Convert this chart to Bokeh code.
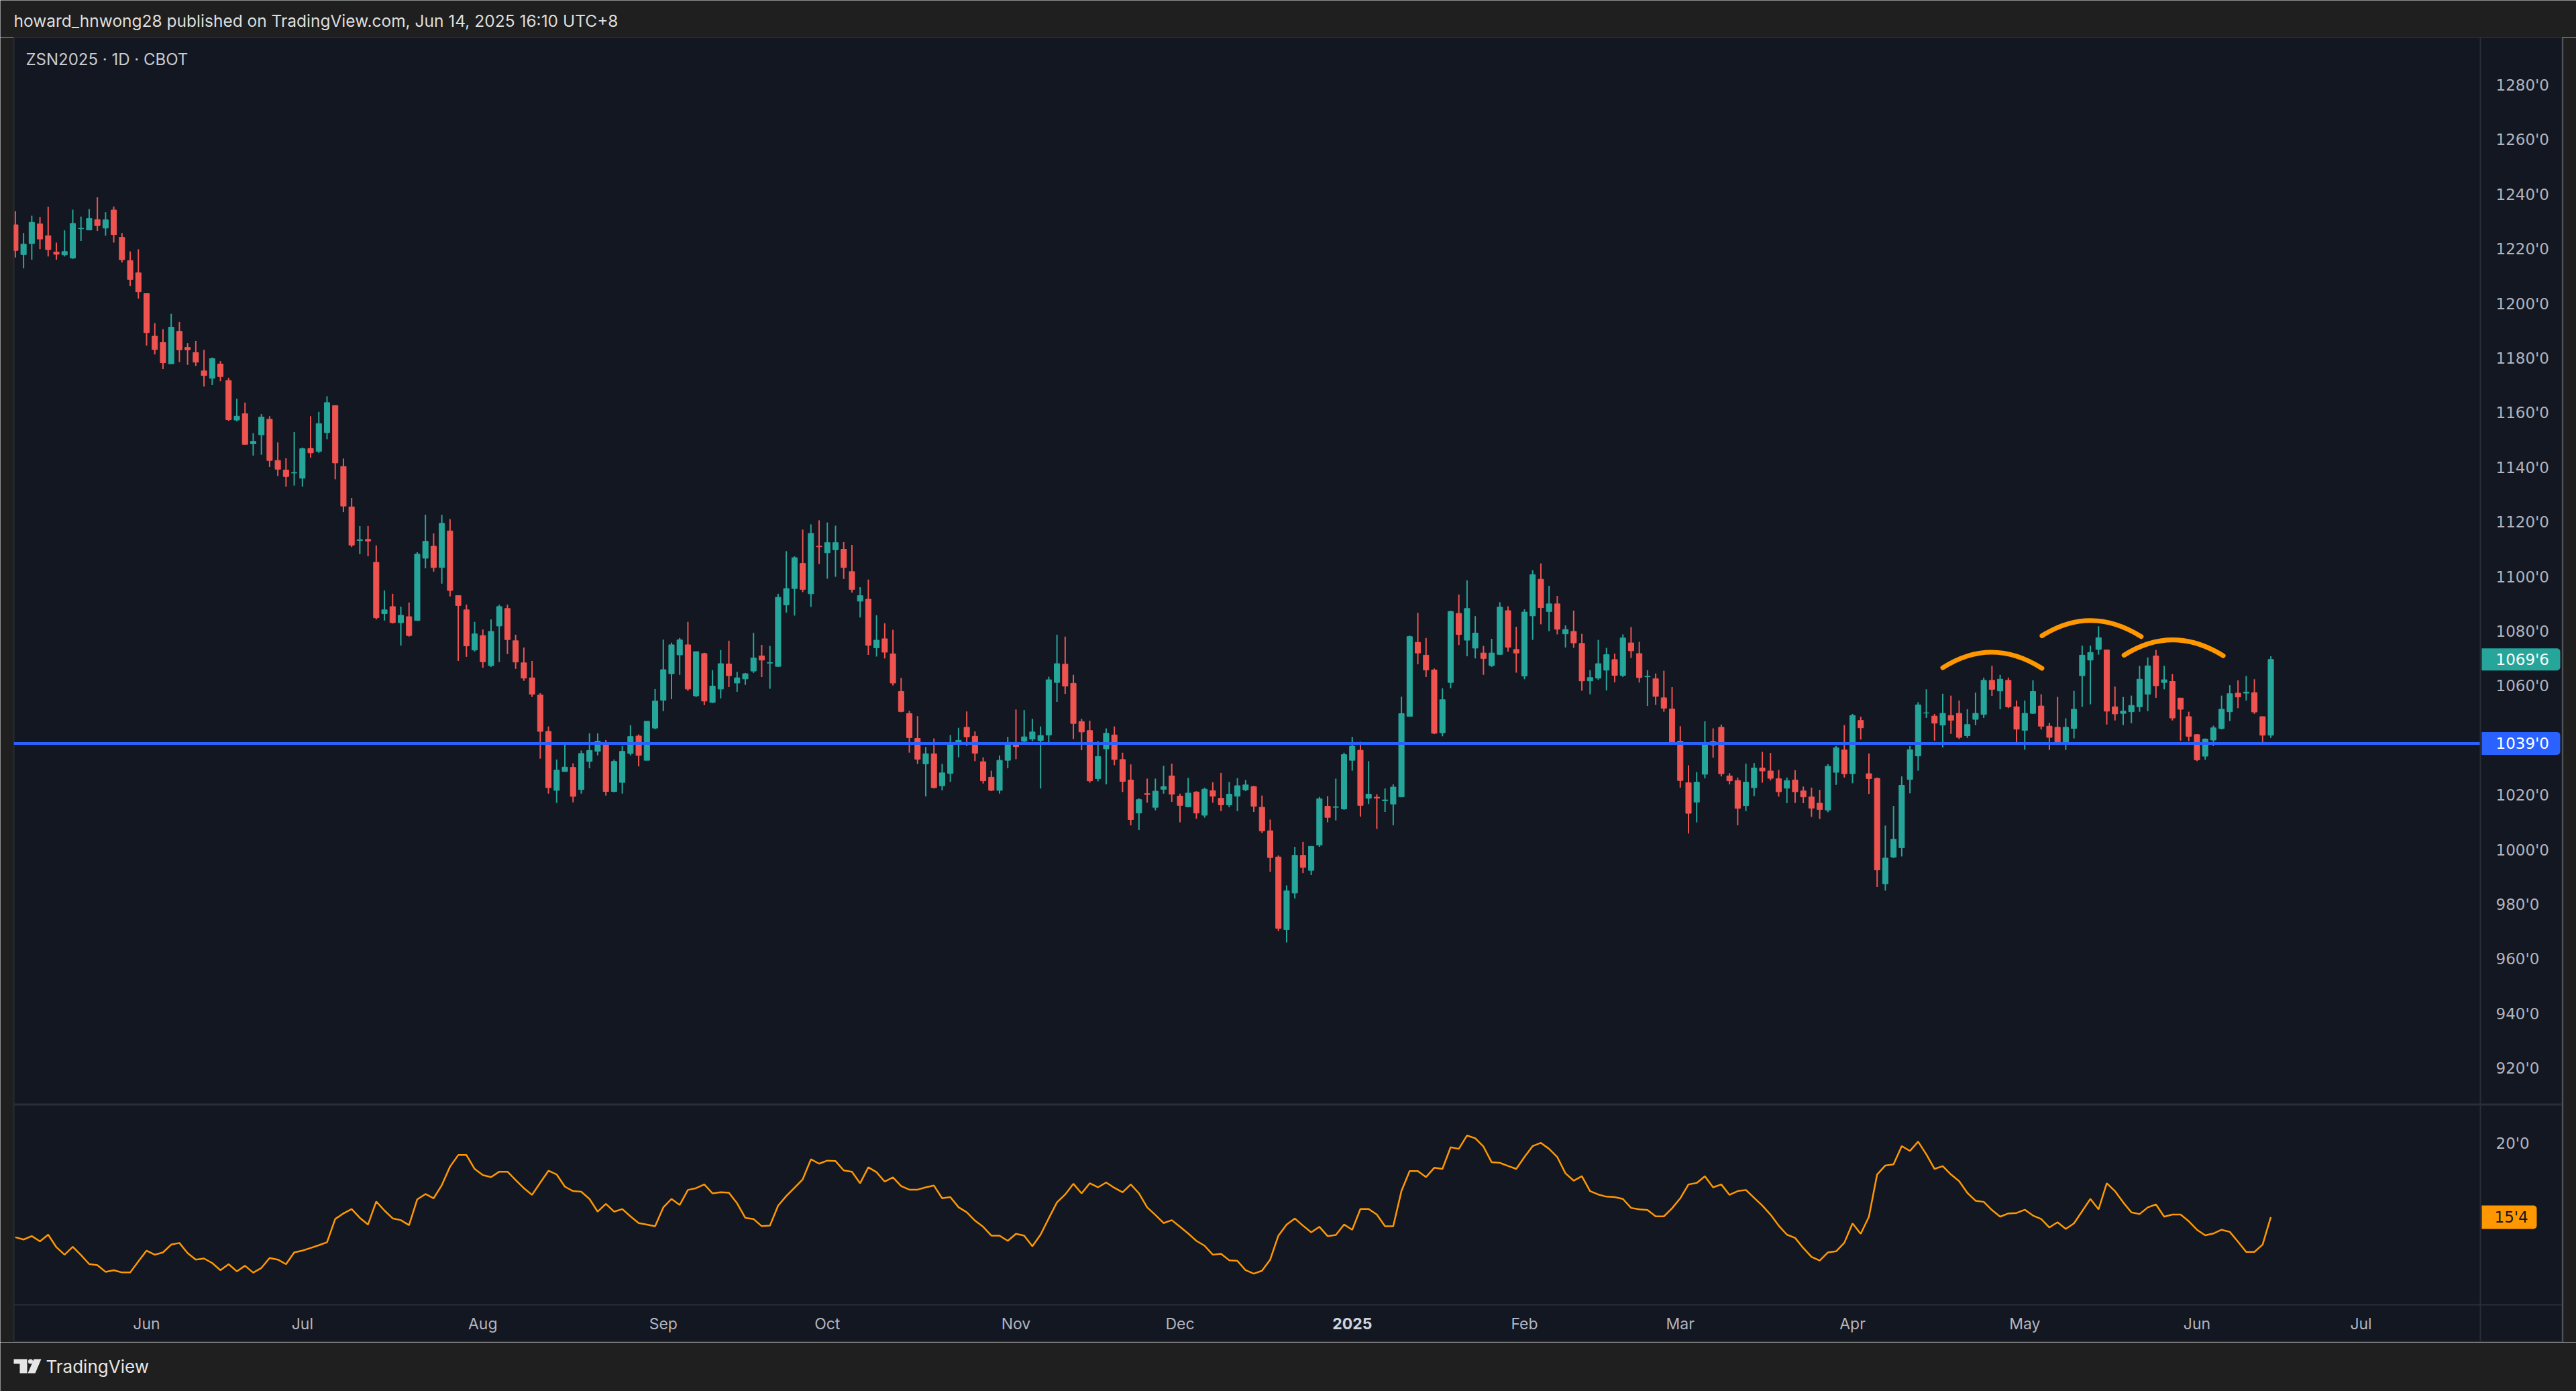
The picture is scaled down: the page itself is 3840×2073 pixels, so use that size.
from bokeh.plotting import figure
from bokeh.models import Range1d, FixedTicker, Span, Label, ColumnDataSource, LinearAxis
from bokeh.layouts import column, row
from bokeh.embed import file_html
from bokeh.resources import INLINE
from bokeh.core.properties import value

# ---------------- data ----------------
HEADER = "howard_hnwong28 published on TradingView.com, Jun 14, 2025 16:10 UTC+8"
SYMBOL = "ZSN2025 \u00b7 1D \u00b7 CBOT"

opens = [
 1228.9,1218.0,1222.0,1229.2,1224.9,1218.9,1217.9,1216.7,1227.5,1227.0,
 1230.8,1227.7,1234.3,1224.3,1215.8,1211.3,1203.7,1188.1,1185.8,1178.0,
 1189.9,1184.0,1182.1,1175.4,1172.7,1177.9,1171.9,1157.4,1159.7,1148.7,
 1152.0,1157.7,1142.6,1139.1,1138.0,1136.1,1147.0,1145.9,1152.8,1162.7,
 1140.4,1125.6,1113.3,1113.7,1105.3,1086.5,1089.1,1083.2,1085.4,1084.0,
 1106.8,1111.2,1103.4,1116.8,1093.1,1087.9,1073.2,1078.5,1067.5,1082.0,
 1088.4,1076.6,1068.5,1063.0,1056.7,1043.4,1021.8,1028.7,1030.2,1022.1,
 1032.4,1036.1,1039.3,1021.4,1024.7,1035.3,1041.7,1032.8,1044.6,1054.8,
 1064.5,1071.4,1075.1,1056.4,1071.9,1054.0,1058.9,1068.1,1061.1,1062.6,
 1065.5,1071.0,1068.4,1067.2,1089.7,1095.7,1104.9,1093.8,1111.2,1108.8,
 1109.9,1110.1,1101.9,1091.1,1091.8,1074.0,1077.3,1071.8,1058.0,1049.9,
 1040.8,1031.5,1035.2,1023.5,1028.0,1038.7,1044.9,1041.6,1032.3,1026.6,
 1021.8,1032.8,1038.7,1039.8,1040.6,1040.1,1042.1,1061.3,1068.0,1061.0,
 1047.0,1043.7,1026.1,1037.0,1042.1,1033.1,1025.6,1013.5,1020.6,1015.6,
 1022.2,1027.1,1019.7,1015.8,1021.2,1012.7,1021.7,1018.9,1016.5,1019.7,
 1022.0,1023.2,1015.6,1007.0,997.4,970.8,984.2,998.0,992.5,1001.8,
 1016.0,1015.6,1015.0,1032.8,1036.5,1018.9,1019.3,1018.0,1016.8,1019.4,
 1048.9,1076.0,1071.3,1065.9,1042.9,1061.3,1086.6,1076.8,1073.9,1072.1,
 1067.5,1071.6,1087.6,1073.4,1063.7,1085.7,1099.1,1087.3,1090.1,1079.1,
 1080.0,1075.6,1061.9,1062.9,1065.8,1069.7,1063.9,1075.8,1071.9,1063.4,
 1062.7,1055.7,1051.6,1039.8,1024.6,1017.5,1027.7,1039.7,1044.9,1027.1,
 1025.4,1016.2,1022.8,1030.0,1028.9,1026.1,1022.6,1025.6,1021.6,1019.4,
 1017.1,1014.6,1028.4,1036.6,1027.9,1047.4,1027.9,1026.2,987.6,997.4,
 1000.8,1025.8,1034.4,1050.1,1049.0,1045.7,1049.2,1050.0,1041.8,1047.8,
 1049.6,1062.1,1058.2,1062.1,1052.4,1043.8,1050.0,1052.7,1045.3,1044.9,
 1039.0,1044.5,1063.8,1069.5,1073.4,1073.2,1052.4,1050.0,1050.6,1052.4,
 1057.0,1071.0,1061.3,1061.7,1055.6,1048.8,1042.2,1034.3,1040.2,1044.5,
 1050.6,1057.4,1057.4,1057.6,1048.8,1042.0]

highs = [
 1233.9,1225.9,1232.2,1231.7,1235.5,1222.4,1226.9,1234.4,1231.9,1234.7,
 1239.0,1233.5,1235.6,1225.9,1219.1,1219.9,1203.7,1192.9,1190.7,1196.3,
 1193.3,1185.6,1186.4,1183.1,1180.3,1179.0,1172.9,1165.2,1163.8,1152.6,
 1159.6,1158.8,1149.2,1143.4,1153.0,1147.3,1158.8,1160.4,1166.1,1162.7,
 1143.3,1128.9,1118.6,1118.6,1111.5,1095.0,1093.8,1089.1,1090.6,1109.0,
 1122.7,1115.9,1122.7,1121.1,1093.1,1089.8,1083.5,1080.7,1084.4,1089.8,
 1089.8,1078.8,1074.1,1069.2,1057.4,1045.2,1033.1,1039.5,1031.7,1036.4,
 1042.7,1042.7,1040.2,1033.1,1038.0,1045.7,1042.3,1047.1,1058.9,1077.0,
 1075.9,1077.6,1083.5,1072.6,1072.2,1065.8,1073.2,1076.6,1065.2,1064.8,
 1079.5,1075.1,1074.7,1093.8,1109.4,1107.5,1117.3,1119.2,1120.7,1119.9,
 1118.7,1112.7,1111.7,1096.2,1099.0,1085.9,1083.0,1080.6,1063.0,1050.9,
 1049.0,1037.7,1040.8,1031.5,1042.1,1044.7,1050.7,1043.4,1033.9,1029.0,
 1034.6,1041.4,1051.4,1051.2,1048.0,1045.2,1063.4,1078.8,1078.1,1064.1,
 1048.0,1047.3,1039.8,1044.5,1045.2,1035.6,1031.3,1018.9,1026.1,1026.1,
 1030.8,1031.6,1020.6,1026.4,1021.5,1022.8,1024.8,1028.2,1024.9,1026.3,
 1025.6,1023.5,1019.9,1011.1,998.0,987.0,1001.1,1002.9,1001.3,1019.4,
 1019.7,1026.1,1035.6,1041.4,1039.6,1032.5,1020.4,1022.5,1024.0,1056.1,
 1078.5,1086.8,1077.6,1066.4,1059.2,1087.6,1093.5,1098.7,1085.6,1074.7,
 1077.3,1090.7,1089.2,1081.7,1088.1,1102.4,1104.9,1096.7,1093.0,1082.2,
 1087.6,1079.1,1065.8,1076.9,1074.0,1071.9,1078.9,1081.6,1076.2,1065.8,
 1064.6,1065.6,1059.6,1045.3,1031.0,1028.5,1047.1,1044.5,1045.9,1028.1,
 1026.5,1031.6,1031.8,1035.9,1035.5,1029.3,1026.5,1029.2,1023.2,1022.8,
 1022.0,1031.4,1038.0,1045.7,1049.8,1048.8,1035.3,1026.5,1008.9,1016.1,
 1026.9,1038.0,1054.1,1058.8,1049.8,1057.2,1056.5,1054.7,1051.5,1057.6,
 1063.1,1067.4,1064.1,1063.1,1054.7,1054.7,1062.1,1057.0,1046.5,1056.0,
 1048.2,1058.2,1074.8,1074.8,1081.9,1073.4,1059.8,1056.0,1056.5,1067.4,
 1070.5,1073.2,1067.4,1064.4,1055.7,1050.6,1042.4,1040.8,1045.5,1056.5,
 1060.3,1062.1,1063.7,1062.5,1048.8,1070.9]

lows = [
 1216.9,1213.0,1216.1,1220.0,1217.3,1216.1,1217.3,1216.4,1223.0,1227.0,
 1226.7,1224.9,1222.4,1215.1,1206.5,1201.9,1184.7,1181.4,1176.1,1178.0,
 1178.6,1177.6,1177.2,1169.7,1170.2,1171.6,1157.1,1156.9,1148.4,1144.4,
 1144.7,1140.2,1136.9,1133.0,1133.4,1133.0,1143.6,1145.4,1150.4,1135.7,
 1123.7,1110.9,1108.3,1107.5,1084.4,1084.0,1082.9,1074.8,1078.1,1084.0,
 1103.1,1101.9,1097.5,1092.8,1069.2,1070.7,1072.6,1066.7,1067.0,1068.8,
 1071.7,1066.3,1061.9,1056.0,1033.4,1020.6,1017.2,1028.7,1017.4,1020.6,
 1029.9,1034.6,1019.9,1021.1,1020.6,1034.6,1030.6,1032.8,1044.2,1050.8,
 1055.2,1064.1,1058.2,1056.0,1053.0,1053.8,1055.5,1059.6,1057.9,1060.4,
 1064.8,1063.3,1059.0,1067.0,1086.9,1085.8,1094.4,1089.0,1104.7,1099.3,
 1100.0,1099.2,1094.2,1085.1,1071.4,1070.8,1070.1,1060.2,1050.4,1035.6,
 1031.5,1019.6,1022.5,1021.8,1024.9,1033.9,1038.0,1032.5,1024.3,1021.5,
 1020.6,1029.9,1033.2,1038.7,1039.8,1022.5,1039.0,1054.2,1057.1,1040.6,
 1036.5,1024.6,1025.1,1024.0,1031.0,1021.2,1009.0,1007.3,1017.3,1014.5,
 1020.6,1017.6,1010.1,1015.6,1011.4,1011.8,1017.3,1014.2,1015.6,1014.2,
 1021.5,1013.9,1006.2,992.0,970.3,966.1,982.2,991.5,990.8,1001.1,
 1010.1,1010.8,1014.7,1029.0,1012.2,1016.8,1007.7,1013.9,1009.0,1019.4,
 1048.9,1068.0,1063.3,1042.4,1041.6,1059.2,1075.0,1070.9,1070.1,1064.1,
 1067.0,1071.4,1072.6,1064.9,1062.5,1076.9,1082.6,1080.1,1078.9,1074.1,
 1074.0,1058.3,1057.0,1062.3,1058.4,1061.4,1063.3,1070.3,1061.3,1052.7,
 1053.1,1050.6,1039.2,1022.8,1006.0,1010.1,1026.2,1033.8,1026.9,1024.0,
 1009.0,1014.2,1019.7,1024.6,1025.4,1019.5,1017.1,1017.2,1017.1,1012.1,
 1011.3,1013.8,1023.8,1026.5,1024.4,1040.4,1020.5,986.4,985.1,997.0,
 997.6,1020.7,1029.0,1048.3,1040.0,1037.5,1042.5,1040.6,1041.0,1045.7,
 1048.3,1056.4,1051.5,1051.9,1038.5,1036.7,1049.8,1044.1,1036.6,1038.4,
 1036.6,1040.8,1052.4,1053.3,1071.5,1045.9,1047.4,1045.7,1046.4,1050.6,
 1050.8,1055.7,1058.8,1047.4,1040.0,1039.8,1032.5,1033.0,1038.0,1044.1,
 1047.2,1051.9,1054.7,1049.8,1038.5,1041.0]

closes = [
 1219.5,1221.8,1229.8,1223.7,1219.8,1218.1,1219.1,1229.4,1227.6,1231.2,
 1228.6,1230.7,1225.3,1216.1,1208.9,1204.4,1189.4,1183.2,1178.4,1191.4,
 1183.1,1183.1,1178.6,1173.7,1179.9,1173.3,1157.5,1158.8,1148.5,1149.6,
 1158.5,1142.6,1139.4,1136.7,1138.2,1146.9,1145.4,1156.1,1163.8,1141.7,
 1125.9,1111.6,1113.6,1113.1,1085.0,1087.9,1083.2,1085.9,1078.5,1108.3,
 1113.0,1103.4,1119.6,1095.0,1089.5,1074.7,1079.1,1068.9,1080.0,1089.1,
 1077.0,1068.8,1062.9,1057.0,1043.4,1022.8,1029.2,1030.3,1019.6,1035.3,
 1036.4,1039.8,1021.4,1032.4,1036.1,1041.5,1034.6,1047.1,1054.5,1066.0,
 1075.1,1076.9,1058.9,1072.6,1054.5,1060.0,1068.2,1063.8,1063.0,1064.5,
 1070.3,1069.5,1068.6,1092.5,1095.7,1107.0,1095.4,1115.9,1111.0,1112.5,
 1112.5,1103.4,1095.4,1093.1,1074.9,1076.8,1072.4,1061.1,1050.7,1041.1,
 1033.2,1035.2,1022.8,1028.2,1038.7,1040.1,1041.4,1035.4,1025.3,1021.8,
 1032.8,1038.7,1037.8,1041.4,1043.2,1041.9,1062.3,1068.2,1060.0,1046.3,
 1043.2,1025.3,1034.2,1042.7,1033.1,1025.1,1011.1,1018.4,1020.3,1021.5,
 1023.2,1020.4,1016.3,1020.8,1013.5,1022.2,1019.7,1016.5,1020.4,1023.5,
 1023.8,1016.0,1007.0,997.2,971.3,985.0,998.0,993.6,1001.3,1018.7,
 1011.9,1015.8,1034.9,1038.0,1016.3,1020.4,1019.0,1018.3,1023.0,1049.9,
 1078.1,1072.1,1065.9,1042.7,1055.0,1087.3,1078.9,1088.4,1079.4,1070.1,
 1072.1,1088.9,1074.2,1072.1,1087.1,1100.8,1088.7,1090.1,1080.8,1080.7,
 1075.8,1061.9,1063.1,1068.2,1071.5,1063.9,1077.6,1072.9,1063.1,1063.6,
 1056.2,1051.9,1039.6,1025.4,1013.4,1024.8,1039.3,1038.4,1027.9,1025.3,
 1015.2,1024.8,1030.0,1028.9,1026.2,1021.3,1025.4,1021.3,1019.4,1015.3,
 1014.8,1030.6,1037.4,1027.9,1049.2,1044.7,1026.1,992.7,997.0,1003.9,
 1023.6,1036.7,1053.1,1050.2,1046.4,1050.0,1047.5,1041.2,1045.9,1050.0,
 1062.1,1058.8,1062.5,1052.4,1044.2,1050.0,1058.0,1045.3,1041.2,1039.0,
 1044.9,1051.5,1071.3,1072.3,1077.7,1050.8,1049.8,1050.8,1052.9,1062.5,
 1067.4,1060.1,1062.3,1048.3,1051.5,1041.6,1033.0,1040.6,1044.7,1051.5,
 1057.2,1056.0,1057.8,1050.5,1042.0,1069.75]

# ATR-style indicator (lower pane)
atr = [
 14.26,14.12,14.33,14.01,14.42,13.65,13.19,13.67,13.17,12.62,
 12.55,12.14,12.24,12.10,12.10,12.78,13.44,13.19,13.33,13.81,
 13.91,13.29,12.89,12.96,12.68,12.24,12.61,12.17,12.51,12.09,
 12.38,12.99,12.89,12.61,13.33,13.44,13.60,13.77,13.95,15.38,
 15.72,15.99,15.45,15.04,16.45,15.90,15.42,15.31,15.00,16.58,
 16.91,16.65,17.46,18.59,19.30,19.30,18.45,18.07,17.95,18.28,
 18.28,17.77,17.27,16.86,17.61,18.34,18.11,17.36,17.09,17.05,
 16.61,15.83,16.31,15.83,15.99,15.54,15.13,15.04,14.93,16.09,
 16.61,16.24,17.16,17.27,17.50,16.95,17.02,16.99,16.34,15.45,
 15.38,14.94,14.97,16.20,16.79,17.29,17.81,19.04,18.77,18.96,
 18.93,18.36,18.28,17.57,18.55,18.25,17.67,17.93,17.40,17.18,
 17.18,17.32,17.43,16.65,16.72,16.10,15.79,15.28,14.90,14.36,
 14.36,14.04,14.47,14.36,13.71,14.42,15.42,16.40,16.88,17.54,
 16.95,17.57,17.32,17.62,17.29,17.02,17.50,16.95,16.09,15.63,
 15.13,15.31,14.90,14.49,14.04,13.74,13.19,13.25,12.85,12.81,
 12.24,12.03,12.21,12.89,14.36,15.04,15.41,14.97,14.56,14.90,
 14.33,14.40,15.04,14.72,15.99,15.99,15.65,14.93,14.93,17.09,
 18.32,18.32,17.95,18.52,18.45,19.78,19.68,20.50,20.33,19.82,
 18.86,18.82,18.63,18.45,19.18,19.85,20.05,19.68,19.18,18.18,
 17.73,18.00,17.09,16.88,16.75,16.72,16.61,16.06,15.97,15.93,
 15.54,15.54,16.04,16.65,17.50,17.59,18.00,17.32,17.50,16.86,
 17.09,17.16,16.68,16.20,15.65,14.97,14.42,14.22,13.60,13.06,
 12.83,13.33,13.40,13.92,15.11,14.47,15.52,18.11,18.66,18.73,
 19.85,19.55,20.12,19.34,18.45,18.62,18.11,17.70,16.98,16.50,
 16.43,15.93,15.52,15.72,15.75,15.95,15.59,15.38,14.86,15.18,
 14.77,15.11,15.86,16.61,15.97,17.57,17.09,16.40,15.79,15.68,
 16.09,16.27,15.52,15.65,15.65,15.24,14.72,14.38,14.49,14.72,
 14.59,13.99,13.36,13.36,13.81,15.49]

level = 1039.0          # blue horizontal support line

# three orange arcs (start, peak, end) in bar index / price
arc_x0 = [235.0, 247.1, 257.1]
arc_xp = [241.0, 253.1, 263.1]
arc_x1 = [247.1, 259.2, 269.2]
arc_y0 = [1066.7, 1078.4, 1071.3]
arc_yp = [1072.4, 1084.0, 1076.9]
arc_y1 = [1066.5, 1078.1, 1071.1]

month_ticks = [16, 35, 57, 79, 99, 122, 142, 163, 184, 203, 224, 245, 266, 286]
month_labels = ["Jun", "Jul", "Aug", "Sep", "Oct", "Nov", "Dec", "2025",
                "Feb", "Mar", "Apr", "May", "Jun", "Jul"]
price_ticks = [920, 940, 960, 980, 1000, 1020, 1040, 1060, 1080, 1100,
               1120, 1140, 1160, 1180, 1200, 1220, 1240, 1260, 1280]
ind_ticks = [15, 20]

# ---------------- style ----------------
OUTER = "#1f1f1f"
BG = "#131722"
LINE = "#2a2e39"
AXT = "#b2b5be"
UP = "#26a69a"
DN = "#ef5350"
ORANGE = "#ff9800"
BLUE = "#2962ff"
FONT = "Inter"
AFONT = "DejaVu Sans"
FS = "23px"

def fmt_price(v):
    w = int(v)
    return "%d'%d" % (w, int(round((v - w) * 8)))

n = len(closes)
bars = list(range(n))

# geometry (page pixels): chart box 20..3820, plot area 20..3697, price scale 3697..3820
BAR_PX = 12.226
X0 = -0.196
X1 = X0 + 3800 / BAR_PX

def px2x(px):
    return X0 + (px - 20) / BAR_PX

Y0, Y1 = 906.66, 1297.57
PXU = 1591 / (Y1 - Y0)
IY0, IY1 = 10.12, 22.38           # indicator pane value range (page y 1944..1646)
IPXU = 298 / (IY1 - IY0)
IYB = IY1 - 354 / IPXU            # bottom of the time-scale strip (page y 2000)

NEG_OK = True
try:
    LinearAxis(major_label_standoff=-5)
except Exception:
    NEG_OK = False

xr = Range1d(X0, X1)

def style_axis(ax, font=FONT, color=AXT, size=FS):
    ax.axis_line_color = None
    ax.major_tick_line_color = None
    ax.minor_tick_line_color = None
    ax.major_tick_out = 0
    ax.major_tick_in = 0
    ax.major_label_text_color = color
    ax.major_label_text_font = font
    ax.major_label_text_font_size = size

def box(fig, v, right_px, color, half_px, pxu):
    kw = dict(left=[px2x(3699)], right=[px2x(right_px)], top=[v + half_px / pxu],
              bottom=[v - half_px / pxu], fill_color=color, line_color=None)
    try:
        fig.quad(border_radius=dict(top_left=0, top_right=5, bottom_right=5, bottom_left=0), **kw)
    except Exception:
        fig.quad(**kw)

# ---------------- main price pane ----------------
p = figure(width=3800, height=1591, x_range=xr, y_range=Range1d(Y0, Y1),
           output_backend="svg", toolbar_location=None,
           x_axis_location=None, y_axis_location=("right" if NEG_OK else None),
           min_border=0, min_border_left=0, min_border_right=0,
           min_border_top=0, min_border_bottom=0,
           background_fill_color=BG, border_fill_color=BG,
           outline_line_color=LINE, outline_line_width=2)
p.xgrid.visible = False
p.ygrid.visible = False

tops = [max(o, c) for o, c in zip(opens, closes)]
bots = [min(o, c) for o, c in zip(opens, closes)]
cols = [UP if c >= o else DN for o, c in zip(opens, closes)]
src = ColumnDataSource(dict(x=bars, h=highs, l=lows, top=tops, bot=bots, color=cols))
p.segment(x0="x", y0="h", x1="x", y1="l", line_color="color", line_width=2, source=src)
p.vbar(x="x", width=0.66, top="top", bottom="bot", fill_color="color",
       line_color="color", line_width=1, source=src)

p.segment(x0=[X0], y0=[level], x1=[px2x(3697)], y1=[level], line_color=BLUE, line_width=4)

cx = [2 * xp - (a + b) / 2 for xp, a, b in zip(arc_xp, arc_x0, arc_x1)]
cy = [2 * yp - (a + b) / 2 for yp, a, b in zip(arc_yp, arc_y0, arc_y1)]
p.quadratic(x0=arc_x0, y0=arc_y0, x1=arc_x1, y1=arc_y1, cx=cx, cy=cy,
            line_color=ORANGE, line_width=7, line_cap="round")

p.add_layout(Span(location=px2x(3697), dimension="height", line_color=LINE, line_width=2))

shown = [t for t in price_ticks if abs(t - level) >= 10 and abs(t - closes[-1]) >= 8]
if NEG_OK:
    ya = p.yaxis[0]
    ya.ticker = FixedTicker(ticks=shown)
    ya.major_label_overrides = {t: fmt_price(t) for t in shown}
    style_axis(ya, font=AFONT)
    ya.major_label_standoff = -100
else:
    p.text(x=[px2x(3720)] * len(shown), y=shown, text=[fmt_price(t) for t in shown],
           text_font=value(AFONT), text_font_size=FS, text_color=AXT,
           text_baseline="middle", text_align="left")

p.add_layout(Label(x=px2x(38), y=1289.4, text=SYMBOL, text_font=FONT,
                   text_font_size="24px", text_color="#c9cbd1",
                   text_align="left", text_baseline="middle"))

box(p, closes[-1], 3816, UP, 16.5, PXU)
box(p, level, 3816, BLUE, 17, PXU)
p.text(x=[px2x(3720)] * 2, y=[closes[-1], level],
       text=[fmt_price(closes[-1]), fmt_price(level)],
       text_font=value(AFONT), text_font_size=FS, text_color="#ffffff",
       text_baseline="middle", text_align="left")

# ---------------- indicator pane + time scale ----------------
q = figure(width=3800, height=354, x_range=xr,
           y_range=Range1d(IYB if NEG_OK else IY0, IY1),
           output_backend="svg", toolbar_location=None,
           x_axis_location="below", y_axis_location=("right" if NEG_OK else None),
           min_border=0, min_border_left=0, min_border_right=0,
           min_border_top=0, min_border_bottom=(0 if NEG_OK else 56),
           background_fill_color=BG, border_fill_color=BG,
           outline_line_color=LINE, outline_line_width=2)
q.xgrid.visible = False
q.ygrid.visible = False
q.line(bars, atr, line_color=ORANGE, line_width=2.5)
q.add_layout(Span(location=px2x(3697), dimension="height", line_color=LINE, line_width=2))
if NEG_OK:
    q.add_layout(Span(location=IY0, dimension="width", line_color=LINE, line_width=2))

xa = q.xaxis[0]
xa.ticker = FixedTicker(ticks=month_ticks)
xa.major_label_overrides = {t: ("" if (lab == "2025" and NEG_OK) else lab)
                            for t, lab in zip(month_ticks, month_labels)}
style_axis(xa)
xa.major_label_standoff = (14 - 56) if NEG_OK else 14

if NEG_OK:
    yr_i = month_labels.index("2025")
    q.text(x=[month_ticks[yr_i]], y=[IY0 - 28 / IPXU], text=[month_labels[yr_i]],
           text_font=value(FONT), text_font_size=FS, text_font_style="bold",
           text_color="#d1d4dc", text_align="center", text_baseline="middle")

ind_shown = [t for t in ind_ticks if abs(t - atr[-1]) > 1]
if NEG_OK:
    yb = q.yaxis[0]
    yb.ticker = FixedTicker(ticks=ind_shown)
    yb.major_label_overrides = {t: fmt_price(t) for t in ind_shown}
    style_axis(yb, font=AFONT)
    yb.major_label_standoff = -100
else:
    q.text(x=[px2x(3720)] * len(ind_shown), y=ind_shown,
           text=[fmt_price(t) for t in ind_shown], text_font=value(AFONT),
           text_font_size=FS, text_color=AXT, text_baseline="middle", text_align="left")

box(q, atr[-1], 3781, ORANGE, 17.5, IPXU)
q.text(x=[px2x(3718)], y=[atr[-1]], text=[fmt_price(atr[-1])],
       text_font=value(AFONT), text_font_size=FS, text_color="#131722",
       text_baseline="middle", text_align="left")

# ---------------- header / footer / side strips ----------------
def plain(w, h, xr_, yr_):
    f = figure(width=w, height=h, x_range=xr_, y_range=yr_, output_backend="svg",
               toolbar_location=None, x_axis_location=None, y_axis_location=None,
               min_border=0, background_fill_color=OUTER, border_fill_color=OUTER,
               outline_line_color=None)
    f.xgrid.visible = False
    f.ygrid.visible = False
    return f

hdr = plain(3840, 55, Range1d(0, 3840), Range1d(55, 0))
hdr.text(x=[20], y=[30], text=[HEADER], text_font=value(FONT), text_font_size="24.5px",
         text_color="#dedede", text_align="left", text_baseline="middle")

ftr = plain(3840, 73, Range1d(0, 3840), Range1d(2073, 2000))
ftr.patch([20, 40, 40, 29, 29, 20], [2025, 2025, 2046, 2046, 2032, 2032],
          fill_color="#e6e6e6", line_color=None)
ftr.circle(x=[45], y=[2028.5], radius=3.6, fill_color="#e6e6e6", line_color=None)
ftr.patch([50, 61, 52, 41], [2025, 2025, 2046, 2046], fill_color="#e6e6e6", line_color=None)
ftr.text(x=[68], y=[2036], text=["TradingView"], text_font=value(FONT),
         text_font_size="26px", text_color="#e6e6e6", text_align="left",
         text_baseline="middle")

gl = plain(20, 1945, Range1d(0, 1), Range1d(0, 1))
gr = plain(20, 1945, Range1d(0, 1), Range1d(0, 1))

layout = column(hdr, row(gl, column(p, q), gr), ftr)

open("out.html", "w").write(file_html(layout, INLINE))
